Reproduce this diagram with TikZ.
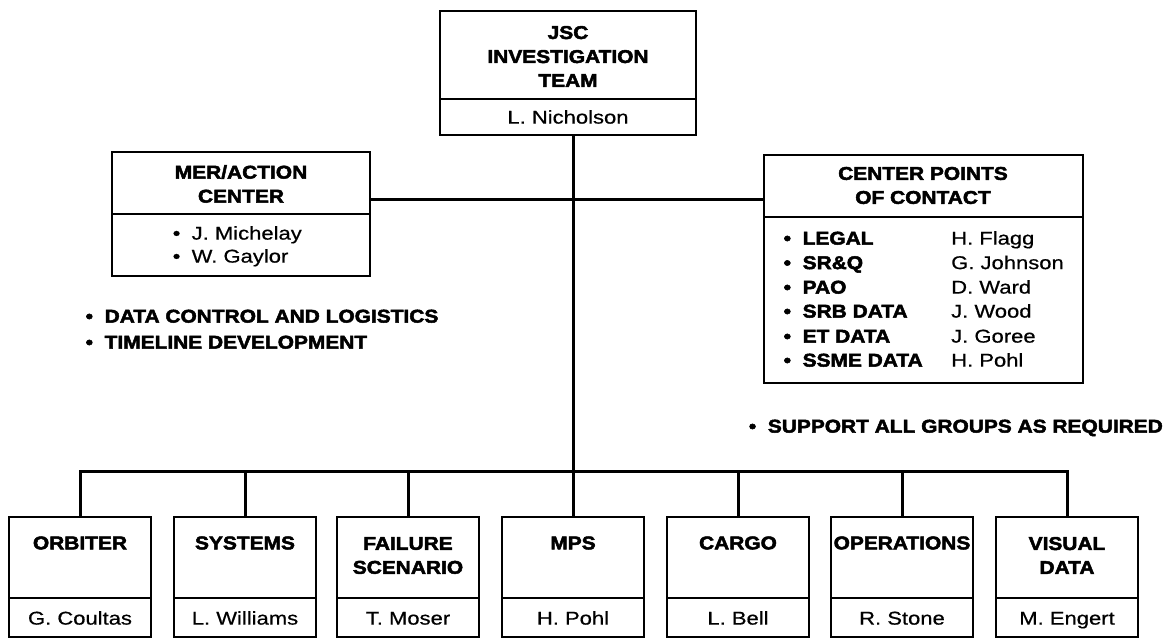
\documentclass[tikz,border=0pt]{standalone}
\usepackage{fontspec}
\setmainfont{Liberation Sans}[FakeStretch=1.19, FakeBold=0.6]
\newfontfamily\tbold{Liberation Sans}[UprightFont={* Bold}, FakeStretch=1.13, FakeBold=2.6]
\newcommand\mybul{\makebox[19pt][l]{•}}
\begin{document}
\begin{tikzpicture}[x=1pt,y=-1pt,
  box/.style={draw, line width=2pt, inner sep=0pt, minimum width=142pt, minimum height=120pt},
  conn/.style={line width=3pt},
  div/.style={line width=1.8pt},
  ttl/.style={font=\tbold\fontsize{18.5}{24}\selectfont, align=center, inner sep=0pt},
  nm/.style={font=\fontsize{18.5}{24}\selectfont, inner sep=0pt, text height=13.2pt, text depth=0pt},
  bl/.style={font=\tbold\fontsize{18.5}{24}\selectfont, inner sep=0pt, text height=13.2pt, text depth=0pt}
]
\useasboundingbox (0,0) rectangle (1168,639);

% top box
\node[box, minimum width=256pt, minimum height=124pt] (top) at (568,73) {};
\draw[div] (top.west |- 0,99) -- (top.east |- 0,99);
\node[ttl] (topT) at (568,56.5) {JSC\\INVESTIGATION\\TEAM};
\node[nm] (topN) at (568,117) {L. Nicholson};

% MER/ACTION box
\node[box, minimum width=258pt, minimum height=124pt] (mer) at (241,214) {};
\draw[div] (mer.west) -- (mer.east);
\node[ttl] (merT) at (241,184) {MER/ACTION\\CENTER};
\node[nm, anchor=west] (mer1) at (172.5,233) {\mybul J. Michelay};
\node[nm, anchor=west] (mer2) at (172.5,256) {\mybul W. Gaylor};

\node[bl, anchor=west] (dl1) at (85.5,316) {\mybul DATA CONTROL AND LOGISTICS};
\node[bl, anchor=west] (dl2) at (85.5,342) {\mybul TIMELINE DEVELOPMENT};

% CENTER POINTS box
\node[box, minimum width=319pt, minimum height=228pt] (cpc) at (923.5,269) {};
\draw[div] (cpc.west |- 0,217) -- (cpc.east |- 0,217);
\node[ttl] (cpcT) at (923,185.5) {CENTER POINTS\\OF CONTACT};
\foreach \lab/\who/\yy [count=\i] in {LEGAL/H. Flagg/238, SR\&Q/G. Johnson/262.5, PAO/D. Ward/287, SRB DATA/J. Wood/311, ET DATA/J. Goree/336, SSME DATA/H. Pohl/360}{
  \node[bl, anchor=west] (cl\i) at (783.5,\yy) {\mybul \lab};
  \node[nm, anchor=west] (cn\i) at (951,\yy) {\who};
}

\node[bl, anchor=east] (sup) at (1163,426) {\mybul SUPPORT ALL GROUPS AS REQUIRED};

% bottom boxes
\foreach \xx/\ttxt/\ty/\who [count=\i] in {
  80/ORBITER/543/G. Coultas,
  245/SYSTEMS/543/L. Williams,
  408/{FAILURE\\SCENARIO}/555.5/T. Moser,
  573/MPS/543/H. Pohl,
  738/CARGO/543/L. Bell,
  902/OPERATIONS/543/R. Stone,
  1067/{VISUAL\\DATA}/555.5/M. Engert}{
  \node[box] (b\i) at (\xx,577) {};
  \draw[div] (b\i.west |- 0,598) -- (b\i.east |- 0,598);
  \node[ttl] (bt\i) at (\xx,\ty) {\ttxt};
  \node[nm] (bn\i) at (\xx,618) {\who};
}

% connectors
\coordinate (spine) at (573,200);
\coordinate (bus) at (573,471);
\draw[conn] (top.south -| spine) -- (b4.north);
\draw[conn] (mer.east |- spine) -- (cpc.west |- spine);
\draw[conn] (b1.north) -- (b1.north |- bus) -- (b7.north |- bus) -- (b7.north);
\foreach \i in {2,3,5,6}{
  \draw[conn] (b\i.north |- bus) -- (b\i.north);
}
\end{tikzpicture}
\end{document}
